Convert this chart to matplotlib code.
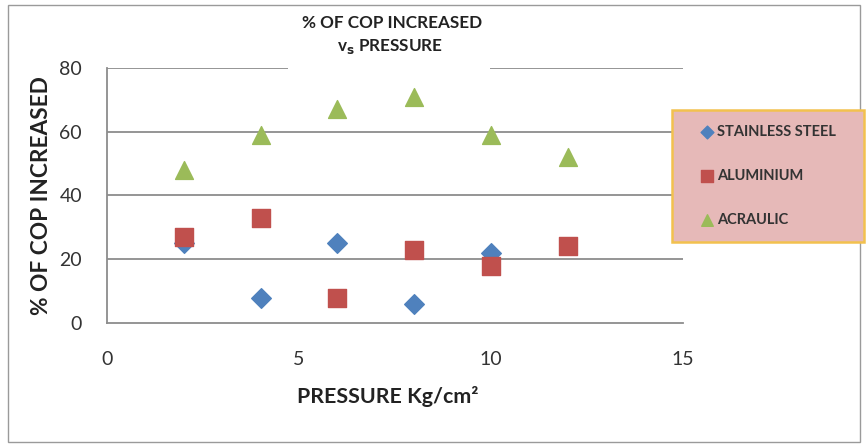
import matplotlib
matplotlib.use("Agg")
import matplotlib.pyplot as plt
from matplotlib.patches import Rectangle

pressure = [2, 4, 6, 8, 10, 12]
stainless_x = [2, 4, 6, 8, 10]
stainless = [25, 8, 25, 6, 22]
aluminium = [27, 33, 8, 23, 18, 24]
acraulic = [48, 59, 67, 71, 59, 52]
x_ticks = [0, 5, 10, 15]
y_ticks = [0, 20, 40, 60, 80]

plt.rcParams['font.family'] = ['Lato', 'DejaVu Sans']

W, H = 867, 444
def fx(px):
    return px / W
def fy(py):
    return 1 - py / H

fig = plt.figure(figsize=(8.67, 4.44), dpi=100)
fig.patches.append(Rectangle((fx(8), fy(442)), (860-8)/W, (442-5)/H, transform=fig.transFigure,
                             fill=False, edgecolor='#9a9a9a', lw=1.0))
ax = fig.add_axes([fx(107), fy(323), 576/W, 255/H])

for y in y_ticks[1:]:
    ax.axhline(y, color='#8c8c8c', lw=1.3, zorder=1)
for s in ['top', 'right']:
    ax.spines[s].set_visible(False)
for s in ['left', 'bottom']:
    ax.spines[s].set_color('#8c8c8c')
    ax.spines[s].set_linewidth(1.3)

ax.scatter(stainless_x, stainless, marker='D', s=100, color='#4F81BD', zorder=3, label='STAINLESS STEEL')
ax.scatter(pressure, aluminium, marker='s', s=165, color='#C0504D', zorder=4, label='ALUMINIUM')
ax.scatter(pressure, acraulic, marker='^', s=165, color='#9BBB59', zorder=3, label='ACRAULIC')

ax.set_xlim(0, 15)
ax.set_ylim(0, 80)
ax.set_xticks(x_ticks)
ax.set_yticks(y_ticks)
ax.tick_params(length=0, labelsize=14, colors='#333333')
ax.tick_params(axis='x', pad=20)
ax.tick_params(axis='y', pad=18)
ax.set_xlabel('PRESSURE Kg/cm²', fontsize=15.4, fontweight='bold', color='#222222', labelpad=13)
ax.xaxis.get_label().set_x((388-107)/576)
ax.set_ylabel('% OF COP INCREASED', fontsize=16.3, fontweight='bold', color='#222222', labelpad=5.5)

fig.text(fx(392), fy(23), '% OF COP INCREASED', ha='center', va='center', fontsize=12.3,
         fontweight='bold', color='#222222')
fig.text(fx(390), fy(47), r'v$_\mathbf{s}$ PRESSURE', ha='center', va='center', fontsize=12.3,
         fontweight='bold', color='#222222')
# white gap behind title over the top gridline
fig.patches.append(Rectangle((fx(288), fy(75)), 202/W, 20/H, transform=fig.transFigure,
                             facecolor='white', edgecolor='none', zorder=5))

# legend box
fig.patches.append(Rectangle((fx(672), fy(242)), (864-672)/W, (242-110)/H, transform=fig.transFigure,
                             facecolor='#E6B9B8', edgecolor='#F2C14E', lw=1.8, zorder=6))
handles, labels = ax.get_legend_handles_labels()
leg = fig.legend(handles, labels, loc='upper left', bbox_to_anchor=(fx(698), fy(125)),
                 bbox_transform=fig.transFigure, frameon=False, fontsize=10.5, labelspacing=2.05,
                 handletextpad=0.1, borderpad=0, handlelength=1.2, borderaxespad=0, markerscale=0.65)
leg.set_zorder(7)
for t in leg.get_texts():
    t.set_fontweight('bold')
    t.set_color('#333333')

fig.savefig('out.png', dpi=100)
